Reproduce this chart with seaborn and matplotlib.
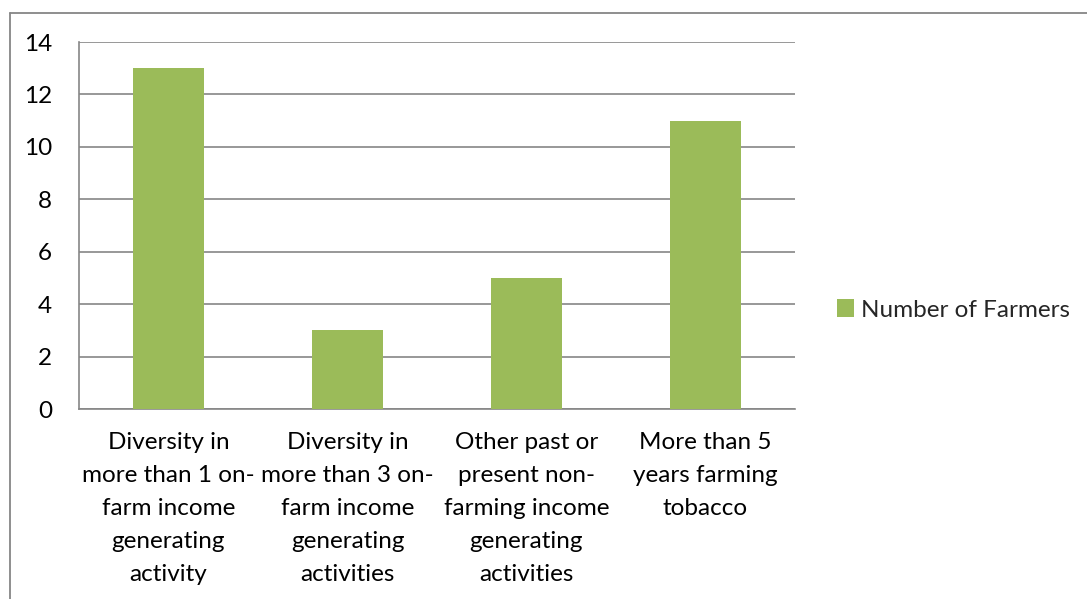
import matplotlib
matplotlib.use("Agg")
import matplotlib.pyplot as plt
from matplotlib.lines import Line2D
from matplotlib.patches import Patch
import seaborn as sns
import pandas as pd

categories = [
    "Diversity in\nmore than 1 on-\nfarm income\ngenerating\nactivity",
    "Diversity in\nmore than 3 on-\nfarm income\ngenerating\nactivities",
    "Other past or\npresent non-\nfarming income\ngenerating\nactivities",
    "More than 5\nyears farming\ntobacco",
]
farmers = [13, 3, 5, 11]
series_name = "Number of Farmers"
y_ticks = [0, 2, 4, 6, 8, 10, 12, 14]

sns.set_style("white")
plt.rcParams["font.family"] = ["Lato", "DejaVu Sans"]

bar_color = "#9BBB59"
grid_color = "#868686"
text_color = "#000000"
fs = 17.5

df = pd.DataFrame({"category": categories, "value": farmers})

fig = plt.figure(figsize=(10.87, 5.99), dpi=100)
ax = fig.add_axes([79 / 1087, 1 - 409 / 599, (795 - 79) / 1087, (409 - 42) / 599])

sns.barplot(data=df, x="category", y="value", color=bar_color, width=0.4,
            saturation=1, linewidth=0, edgecolor="none", ax=ax, zorder=3)

ax.set_ylim(0, 14)
ax.set_xlim(-0.5, len(categories) - 0.5)
ax.set_yticks(y_ticks)
ax.set_yticklabels([str(t) for t in y_ticks], fontsize=fs, color=text_color)
ax.yaxis.grid(True, color=grid_color, linewidth=1.2, zorder=0)
ax.set_axisbelow(True)

# category ticks sit between the groups
ax.set_xticks([i - 0.5 for i in range(len(categories) + 1)], minor=False)
ax.set_xticklabels([""] * (len(categories) + 1))
ax.set_xticks(range(len(categories)), minor=True)
ax.set_xticklabels(categories, minor=True, fontsize=fs, color=text_color,
                   linespacing=1.71, ha="center", va="top")
ax.tick_params(axis="x", which="major", length=5, width=1.2, color=grid_color, direction="out")
ax.tick_params(axis="x", which="minor", length=0, pad=16.5)
ax.tick_params(axis="y", length=6.5, width=1.2, color=grid_color, direction="out", pad=13)

ax.set_xlabel("")
ax.set_ylabel("")
for side in ["top", "right"]:
    ax.spines[side].set_visible(False)
for side in ["left", "bottom"]:
    ax.spines[side].set_color(grid_color)
    ax.spines[side].set_linewidth(1.2)

handle = Patch(facecolor=bar_color, edgecolor="none")
fig.legend([handle], [series_name], loc="center left",
           bbox_to_anchor=(815 / 1087, 1 - 310 / 599), frameon=False,
           fontsize=fs, handlelength=0.7, handleheight=0.7, handletextpad=0.3)

# outer chart-area frame
fig.add_artist(Line2D([9.5 / 1087, 1.0], [1 - 12.5 / 599] * 2, transform=fig.transFigure,
                      color=grid_color, linewidth=1.3))
fig.add_artist(Line2D([9.5 / 1087] * 2, [0.0, 1 - 12.5 / 599], transform=fig.transFigure,
                      color=grid_color, linewidth=1.3))

fig.savefig("out.png", dpi=100)
